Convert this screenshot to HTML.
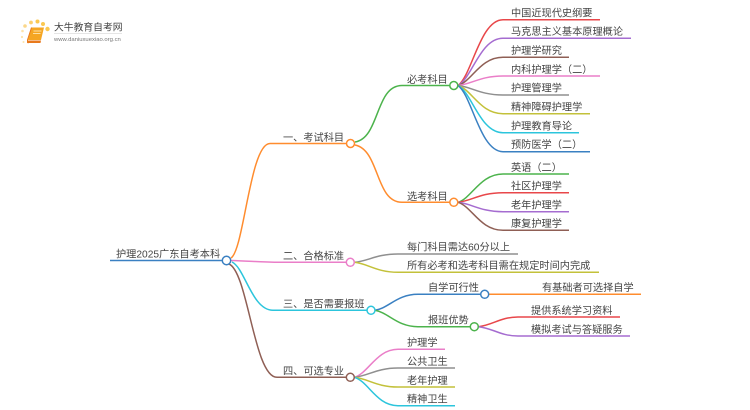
<!DOCTYPE html>
<html><head><meta charset="utf-8"><style>
html,body{margin:0;padding:0;background:#fff;width:750px;height:410px;overflow:hidden}
svg{display:block;filter:blur(.35px)}
text{font-family:"Liberation Sans","Noto Sans CJK SC",sans-serif;font-size:10.2px;fill:#444}
path,line{fill:none;stroke-width:1.5}
circle{fill:#fff;stroke-width:1.5}
</style></head><body>
<svg width="750" height="410" viewBox="0 0 750 410" xmlns="http://www.w3.org/2000/svg">
<!-- logo -->
<g>
<circle cx="25" cy="26" r="1.8" style="fill:#fbd78a;stroke:none"/><circle cx="31" cy="22.500" r="1.9" style="fill:#fbd06e;stroke:none"/><circle cx="37.500" cy="21.500" r="2" style="fill:#fbc850;stroke:none"/><circle cx="43" cy="24" r="2" style="fill:#fbc850;stroke:none"/><circle cx="47.500" cy="29" r="2.200" style="fill:#fbc850;stroke:none"/><circle cx="22.500" cy="31" r="1.300" style="fill:#fde3aa;stroke:none"/><circle cx="22" cy="37" r="1.100" style="fill:#fde3aa;stroke:none"/><circle cx="23.500" cy="42" r="1" style="fill:#fde3aa;stroke:none"/>
<path d="M31.500 27.500H44L41 40H28Z" style="fill:#f5a623;stroke:none"/>
<path d="M27.500 40.500H41L40.500 43H28Z" style="fill:#e8791c;stroke:none"/>
<path d="M31.500 27.500L27.500 40V42.500L28.500 43" style="stroke:#e8791c;stroke-width:1"/>
<path d="M33.500 31H41.500M33 33.500H40.500" style="stroke:#fff3d0;stroke-width:.8"/>
<text x="54" y="30.500" style="font-size:9.8px;fill:#444">大牛教育自考网</text>
<line x1="54" y1="33.500" x2="122" y2="33.500" style="stroke:#ddd;stroke-width:.8"/>
<text x="54" y="41" style="font-size:5.9px;fill:#777">www.daniuxuexiao.org.cn</text>
</g>

<!-- root branches -->
<path stroke="#ff8c2e" d="M231 258C244 250 250 143.500 270 143.500H346"/>
<path stroke="#ea7ec8" d="M231 260.500C250 261 262 262.300 280 262.300H346"/>
<path stroke="#2cc5dc" d="M232 262C245 268 252 310.300 273 310.300H367"/>
<path stroke="#8f5f55" d="M229 264C248 272 254 377.300 277 377.300H346"/>
<line stroke="#3a80c2" x1="110" y1="260.500" x2="222" y2="260.500"/>

<!-- 一 children -->
<path stroke="#4cb34c" d="M355 142C380 138 375 85.500 402 85.500H450"/>
<path stroke="#ff8c2e" d="M355 145C380 150 375 202.300 402 202.300H450"/>

<!-- 必考 leaves -->
<path stroke="#e8474a" d="M458 85.500C472 75.600 480 19.700 503 19.700H600"/>
<path stroke="#a56cd0" d="M458 85.500C472 78.400 480 38.300 503 38.300H631"/>
<path stroke="#8f5f55" d="M458 85.500C472 81.300 480 57.300 503 57.300H569"/>
<path stroke="#ea7ec8" d="M458 85.500C472 84.100 480 76 503 76H600"/>
<path stroke="#8f8f8f" d="M458 85.500C472 86.900 480 95 503 95H569"/>
<path stroke="#c3c13a" d="M458 85.500C472 89.700 480 113.700 503 113.700H590"/>
<path stroke="#2cc5dc" d="M458 85.500C472 92.600 480 132.700 503 132.700H579"/>
<path stroke="#3a80c2" d="M458 85.500C472 95.400 480 151.700 503 151.700H590"/>

<!-- 选考 leaves -->
<path stroke="#4cb34c" d="M458 202.300C472 198 480 174 503 174H569"/>
<path stroke="#e8474a" d="M458 202.300C472 200.900 480 192.700 503 192.700H569"/>
<path stroke="#a56cd0" d="M458 202.300C472 203.700 480 211.700 503 211.700H569"/>
<path stroke="#8f5f55" d="M458 202.300C472 206.500 480 230.300 503 230.300H569"/>

<!-- 二 -->
<path stroke="#8f8f8f" d="M354.500 262.300C368.500 261 376.500 254 398 254H518"/>
<path stroke="#c3c13a" d="M354.500 262.300C368.500 263.800 376.500 272.300 398 272.300H599"/>

<!-- 三 -->
<path stroke="#3a80c2" d="M375 310.300C389 308 397 294.300 418 294.300H481"/>
<path stroke="#4cb34c" d="M375 310.300C389 312.800 397 326.700 418 326.700H470"/>
<line stroke="#ff8c2e" x1="489" y1="294.300" x2="641" y2="294.300"/>
<path stroke="#e8474a" d="M478.500 326.700C492.500 325.200 500.500 317 518 317H620"/>
<path stroke="#a56cd0" d="M478.500 326.700C492.500 328.100 500.500 336 518 336H630"/>

<!-- 四 -->
<path stroke="#ea7ec8" d="M354.500 377.300C368.500 373 376.500 349.300 398 349.300H445"/>
<path stroke="#8f8f8f" d="M354.500 377.300C368.500 375.900 376.500 368 398 368H455"/>
<path stroke="#c3c13a" d="M354.500 377.300C368.500 378.800 376.500 387 398 387H455"/>
<path stroke="#2cc5dc" d="M354.500 377.300C368.500 381.600 376.500 405.700 398 405.700H455"/>

<!-- nodes -->
<circle cx="226.500" cy="260.500" r="4.200" stroke="#3a80c2"/>
<circle cx="350.500" cy="143.500" r="4" stroke="#ff8c2e"/>
<circle cx="350.300" cy="262.300" r="4" stroke="#ea7ec8"/>
<circle cx="371" cy="310.300" r="4" stroke="#2cc5dc"/>
<circle cx="350.300" cy="377.300" r="4" stroke="#8f5f55"/>
<circle cx="453.800" cy="85.500" r="4" stroke="#4cb34c"/>
<circle cx="453.800" cy="202.300" r="4" stroke="#ff8c2e"/>
<circle cx="484.700" cy="294.300" r="4" stroke="#3a80c2"/>
<circle cx="474.300" cy="326.700" r="4" stroke="#4cb34c"/>

<!-- labels -->
<text x="116" y="257.500">护理2025广东自考本科</text>
<text x="283" y="141">一、考试科目</text>
<text x="283" y="259.500">二、合格标准</text>
<text x="283" y="307.500">三、是否需要报班</text>
<text x="283" y="374.500">四、可选专业</text>
<text x="407" y="83">必考科目</text>
<text x="407" y="200">选考科目</text>

<text x="511" y="16.500">中国近现代史纲要</text>
<text x="511" y="35">马克思主义基本原理概论</text>
<text x="511" y="54">护理学研究</text>
<text x="511" y="73">内科护理学（二）</text>
<text x="511" y="91.500">护理管理学</text>
<text x="511" y="110.500">精神障碍护理学</text>
<text x="511" y="129.500">护理教育导论</text>
<text x="511" y="148">预防医学（二）</text>

<text x="511" y="171">英语（二）</text>
<text x="511" y="189.500">社区护理学</text>
<text x="511" y="208.500">老年护理学</text>
<text x="511" y="227">康复护理学</text>

<text x="407" y="250.500">每门科目需达60分以上</text>
<text x="407" y="269">所有必考和选考科目需在规定时间内完成</text>

<text x="428" y="291">自学可行性</text>
<text x="428" y="323.500">报班优势</text>
<text x="542" y="291">有基础者可选择自学</text>
<text x="531" y="314">提供系统学习资料</text>
<text x="531" y="333">模拟考试与答疑服务</text>

<text x="407" y="346">护理学</text>
<text x="407" y="365">公共卫生</text>
<text x="407" y="384">老年护理</text>
<text x="407" y="402.500">精神卫生</text>
</svg>
</body></html>
